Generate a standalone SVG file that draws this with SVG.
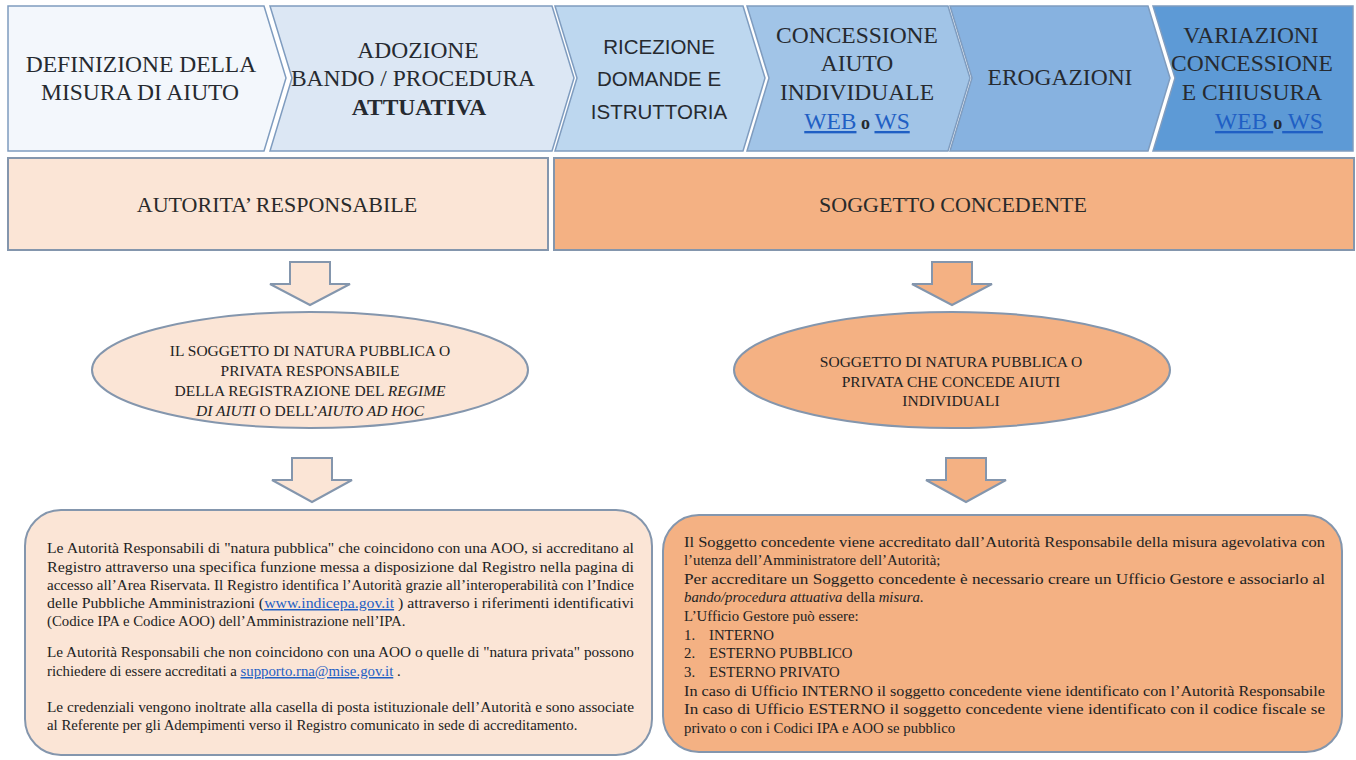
<svg xmlns="http://www.w3.org/2000/svg" width="1356" height="760" viewBox="0 0 1356 760">
<defs>
<style>
.chev{stroke:#7f9cbf;stroke-width:1.5;stroke-linejoin:miter}
.hd{font-family:"Liberation Serif",serif;font-size:23.5px;fill:#262a30;text-anchor:middle}
.hs{font-family:"Liberation Sans",sans-serif;font-size:20.5px;fill:#262a30;text-anchor:middle}
.lnk{fill:#1f5fc4;text-decoration:underline}
.lt{fill:#fbe5d6;stroke:#8496ad;stroke-width:2}
.dk{fill:#f4b183;stroke:#8496ad;stroke-width:2}
.rl{font-family:"Liberation Serif",serif;font-size:22px;fill:#2a2a2a;text-anchor:middle}
.el{font-family:"Liberation Serif",serif;font-size:15.5px;fill:#222;text-anchor:middle}
.bl{font-family:"Liberation Serif",serif;font-size:14.8px;fill:#222}
.br{font-family:"Liberation Serif",serif;font-size:14.8px;fill:#222}
.it{font-style:italic}
</style>
</defs>

<g id="step1">
<path class="chev" fill="#f3f7fc" d="M8,6 L264,6 L286,78 L264,151 L8,151 Z"/>
<text class="hd" x="141" y="72" font-size="22.8px">DEFINIZIONE DELLA</text>
<text class="hd" x="140" y="100" font-size="22.8px">MISURA DI AIUTO</text>
</g>
<g id="step2">
<path class="chev" fill="#dce7f4" d="M270,6 L552,6 L574,78 L552,151 L270,151 L292,78 Z"/>
<text class="hd" x="418" y="58">ADOZIONE</text>
<text class="hd" x="413" y="86">BANDO / PROCEDURA</text>
<text class="hd" x="419" y="115" font-weight="bold">ATTUATIVA</text>
</g>
<g id="step3">
<path class="chev" fill="#bdd7ef" d="M555,6 L743,6 L765,78 L743,151 L555,151 L577,78 Z"/>
<text class="hs" x="659" y="54">RICEZIONE</text>
<text class="hs" x="659" y="86">DOMANDE E</text>
<text class="hs" x="659" y="119">ISTRUTTORIA</text>
</g>
<g id="step4">
<path class="chev" fill="#a1c4e7" d="M747,6 L948,6 L970,78 L948,151 L747,151 L769,78 Z"/>
<text class="hd" x="857" y="43">CONCESSIONE</text>
<text class="hd" x="857" y="71">AIUTO</text>
<text class="hd" x="857" y="100">INDIVIDUALE</text>
<text class="hd" x="857" y="129"><tspan class="lnk">WEB</tspan><tspan font-weight="bold" font-size="18px"> o </tspan><tspan class="lnk">WS</tspan></text>
</g>
<g id="step5">
<path class="chev" fill="#87b2e0" d="M950,6 L1148,6 L1170,78 L1148,151 L950,151 L972,78 Z"/>
<text class="hd" x="1060" y="85">EROGAZIONI</text>
</g>
<g id="step6">
<path class="chev" fill="#5d9ad6" d="M1153,6 L1353,6 L1353,151 L1153,151 L1175,78 Z"/>
<text class="hd" x="1251" y="43">VARIAZIONI</text>
<text class="hd" x="1252" y="71">CONCESSIONE</text>
<text class="hd" x="1252" y="100">E CHIUSURA</text>
<text class="hd" x="1269" y="129"><tspan class="lnk">WEB </tspan><tspan font-weight="bold" font-size="18px">o</tspan><tspan class="lnk"> WS</tspan></text>
</g>

<g id="autorita">
<rect class="lt" x="8" y="158" width="540" height="92"/>
<text class="rl" x="277" y="212">AUTORITA’ RESPONSABILE</text>
</g>
<g id="soggetto">
<rect class="dk" x="554" y="158" width="800" height="92"/>
<text class="rl" x="953" y="212" font-size="23px">SOGGETTO CONCEDENTE</text>
</g>

<g id="connectors">
<path class="lt" d="M290,262 L330,262 L330,284 L350,284 L310,305 L270,284 L290,284 Z"/>
<path class="lt" d="M292,458 L332,458 L332,480 L352,480 L312,502 L272,480 L292,480 Z"/>
<path class="dk" d="M932,262 L972,262 L972,284 L992,284 L952,305 L912,284 L932,284 Z"/>
<path class="dk" d="M946,458 L986,458 L986,480 L1006,480 L966,502 L926,480 L946,480 Z"/>
</g>

<g id="ellipse-ar">
<ellipse class="lt" cx="310" cy="370" rx="218" ry="58"/>
<text class="el" x="310" y="356">IL SOGGETTO DI NATURA PUBBLICA O</text>
<text class="el" x="310" y="376">PRIVATA RESPONSABILE</text>
<text class="el" x="310" y="396">DELLA REGISTRAZIONE DEL <tspan class="it">REGIME</tspan></text>
<text class="el" x="310" y="416"><tspan class="it">DI AIUTI</tspan> O DELL’<tspan class="it">AIUTO AD HOC</tspan></text>
</g>
<g id="ellipse-sc">
<ellipse class="dk" cx="952" cy="370" rx="218" ry="58"/>
<text class="el" x="951" y="367">SOGGETTO DI NATURA PUBBLICA O</text>
<text class="el" x="951" y="387">PRIVATA CHE CONCEDE AIUTI</text>
<text class="el" x="951" y="406">INDIVIDUALI</text>
</g>

<g id="box-ar">
<rect class="lt" x="25" y="510" width="627" height="245" rx="36"/>
<text class="bl" x="47" y="553" textLength="587" lengthAdjust="spacingAndGlyphs">Le Autorità Responsabili di "natura pubblica" che coincidono con una AOO, si accreditano al</text>
<text class="bl" x="47" y="572" textLength="587" lengthAdjust="spacingAndGlyphs">Registro attraverso una specifica funzione messa a disposizione dal Registro nella pagina di</text>
<text class="bl" x="47" y="590" textLength="587" lengthAdjust="spacingAndGlyphs">accesso all’Area Riservata. Il Registro identifica l’Autorità grazie all’interoperabilità con l’Indice</text>
<text class="bl" x="47" y="608" textLength="587" lengthAdjust="spacingAndGlyphs">delle Pubbliche Amministrazioni (<tspan class="lnk">www.indicepa.gov.it</tspan> ) attraverso i riferimenti identificativi</text>
<text class="bl" x="47" y="626">(Codice IPA e Codice AOO) dell’Amministrazione nell’IPA.</text>
<text class="bl" x="47" y="657" textLength="587" lengthAdjust="spacingAndGlyphs">Le Autorità Responsabili che non coincidono con una AOO o quelle di "natura privata" possono</text>
<text class="bl" x="47" y="676">richiedere di essere accreditati a <tspan class="lnk">supporto.rna@mise.gov.it</tspan> .</text>
<text class="bl" x="47" y="712" textLength="587" lengthAdjust="spacingAndGlyphs">Le credenziali vengono inoltrate alla casella di posta istituzionale dell’Autorità e sono associate</text>
<text class="bl" x="47" y="730">al Referente per gli Adempimenti verso il Registro comunicato in sede di accreditamento.</text>
</g>

<g id="box-sc">
<rect class="dk" x="663" y="515" width="679" height="237" rx="36"/>
<text class="br" x="684" y="547" textLength="641" lengthAdjust="spacingAndGlyphs">Il Soggetto concedente viene accreditato dall’Autorità Responsabile della misura agevolativa con</text>
<text class="br" x="684" y="565">l’utenza dell’Amministratore dell’Autorità;</text>
<text class="br" x="684" y="584" textLength="641" lengthAdjust="spacingAndGlyphs">Per accreditare un Soggetto concedente è necessario creare un Ufficio Gestore e associarlo al</text>
<text class="br" x="684" y="602"><tspan class="it">bando/procedura attuativa</tspan> della <tspan class="it">misura</tspan>.</text>
<text class="br" x="684" y="621">L’Ufficio Gestore può essere:</text>
<text class="br" x="684" y="640">1.</text><text class="br" x="709" y="640">INTERNO</text>
<text class="br" x="684" y="658">2.</text><text class="br" x="709" y="658">ESTERNO PUBBLICO</text>
<text class="br" x="684" y="677">3.</text><text class="br" x="709" y="677">ESTERNO PRIVATO</text>
<text class="br" x="684" y="696" textLength="641" lengthAdjust="spacingAndGlyphs">In caso di Ufficio INTERNO il soggetto concedente viene identificato con l’Autorità Responsabile</text>
<text class="br" x="684" y="714" textLength="641" lengthAdjust="spacingAndGlyphs">In caso di Ufficio ESTERNO il soggetto concedente viene identificato con il codice fiscale se</text>
<text class="br" x="684" y="733">privato o con i Codici IPA e AOO se pubblico</text>
</g>
</svg>
